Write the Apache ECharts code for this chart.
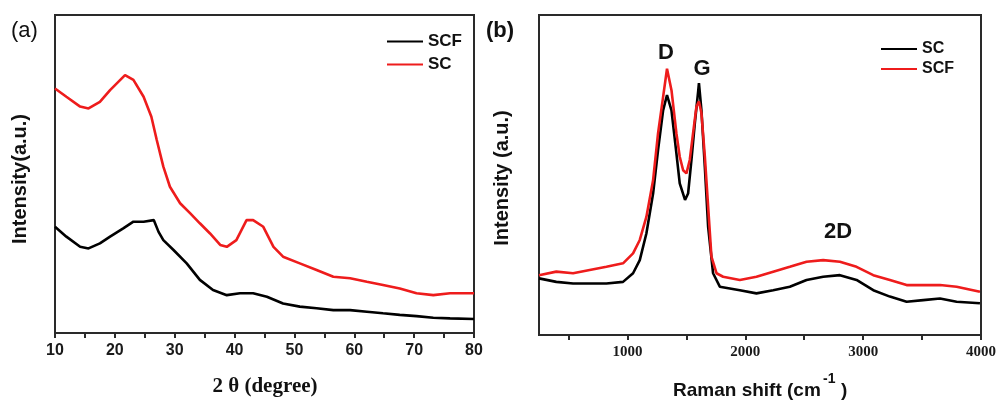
<!DOCTYPE html>
<html><head><meta charset="utf-8">
<script src="https://cdn.jsdelivr.net/npm/echarts@6/dist/echarts.min.js"></script>
<style>html,body{margin:0;padding:0;background:#fff}#c{width:999px;height:401px}</style>
</head><body><div id="c"></div>
<script>
// ---- (a) XRD data ----
const xrdThetaSC = [10, 11.9, 14.2, 15.6, 17.5, 19.2, 21.7, 23.1, 24.8, 26.1, 27.0, 28.1, 29.2, 30.9, 32.6, 34.2, 35.9, 37.6, 38.7, 40.3, 42.0, 43.1, 44.8, 46.5, 48.1, 50.9, 53.7, 56.5, 59.3, 62.1, 64.8, 67.6, 70.4, 73.2, 76.0, 80.0];
const xrdSC = [76.9, 74.3, 71.2, 70.6, 72.7, 76.4, 81.1, 79.6, 74.3, 68.0, 60.7, 52.3, 46.0, 40.8, 37.6, 34.5, 31.3, 27.7, 27.1, 29.2, 35.5, 35.5, 33.4, 27.1, 24.0, 21.9, 19.8, 17.7, 17.2, 16.1, 15.1, 14.0, 12.5, 11.9, 12.5, 12.5];
const xrdThetaSCF = [10, 11.9, 14.2, 15.6, 17.5, 19.2, 21.4, 23.1, 24.8, 26.5, 27.3, 28.1, 29.8, 32.0, 34.2, 36.4, 38.7, 40.9, 43.1, 45.4, 48.1, 50.9, 53.7, 56.5, 59.3, 62.1, 64.8, 67.6, 70.4, 73.2, 76.0, 80.0];
const xrdSCF = [33.4, 30.3, 27.1, 26.6, 28.2, 30.3, 32.9, 35.0, 35.0, 35.5, 31.8, 29.2, 26.1, 21.9, 16.7, 13.5, 11.9, 12.5, 12.5, 11.4, 9.3, 8.3, 7.8, 7.2, 7.2, 6.7, 6.2, 5.7, 5.3, 4.8, 4.6, 4.4];
const xrdTicks = [10, 20, 30, 40, 50, 60, 70, 80];

// ---- (b) Raman data ----
const ramanShiftSC = [250, 397, 539, 680, 822, 963, 1048, 1105, 1161, 1218, 1260, 1303, 1336, 1374, 1416, 1444, 1489, 1515, 1543, 1572, 1600, 1607, 1628, 1657, 1685, 1727, 1784, 1954, 2095, 2237, 2378, 2520, 2661, 2803, 2944, 3086, 3227, 3369, 3510, 3652, 3793, 3991];
const ramanSC = [17.7, 16.6, 16.1, 16.1, 16.1, 16.6, 19.3, 23.4, 31.7, 44.2, 57.8, 70.2, 75.0, 70.2, 56.7, 47.4, 42.2, 44.2, 54.6, 66.1, 76.0, 78.7, 70.3, 52.5, 33.8, 19.3, 15.1, 14.0, 13.0, 14.0, 15.1, 17.2, 18.2, 18.7, 17.2, 14.0, 12.0, 10.4, 10.9, 11.4, 10.4, 9.9];
const ramanShiftSCF = [250, 397, 539, 680, 822, 963, 1048, 1105, 1161, 1218, 1260, 1303, 1336, 1374, 1416, 1444, 1473, 1501, 1529, 1557, 1586, 1607, 1628, 1657, 1685, 1713, 1756, 1812, 1954, 2095, 2237, 2378, 2520, 2661, 2803, 2944, 3086, 3227, 3369, 3510, 3652, 3793, 3991];
const ramanSCF = [18.7, 19.8, 19.3, 20.3, 21.3, 22.4, 25.5, 29.7, 36.9, 48.4, 63.0, 74.4, 83.2, 76.5, 63.0, 55.7, 51.5, 50.5, 54.7, 63.0, 71.4, 73.0, 69.4, 55.8, 40.1, 24.5, 19.3, 18.2, 17.2, 18.2, 19.8, 21.3, 22.9, 23.4, 22.9, 21.3, 18.7, 17.2, 15.6, 15.6, 15.6, 15.1, 13.5];
const ramanTicks = [1000, 2000, 3000, 4000];
const ramanMinorTicks = [500, 1000, 1500, 2000, 2500, 3000, 3500, 4000];

const zip = (xs, ys) => xs.map((x, i) => [x, ys[i]]);
const SANS = '"Liberation Sans", Arial, sans-serif';
const SERIF = '"Liberation Serif", "Times New Roman", serif';
const RED = '#ee1c1c';
const BLACK = '#000000';
const AX = '#2a2a2a';

const chart = echarts.init(document.getElementById('c'), null, { renderer: 'canvas' });

const axisCommon = {
  axisLine: { show: true, lineStyle: { color: AX, width: 2 } },
  splitLine: { show: false }
};
const txt = (text, x, y, font, align, rot) => ({
  type: 'text', x: x, y: y, rotation: rot || 0,
  style: { text: text, font: font, fill: '#111', align: align || 'center', verticalAlign: 'middle', textAlign: align || 'center', textVerticalAlign: 'middle' }
});

chart.setOption({
  animation: false,
  backgroundColor: '#fff',
  grid: [
    { left: 55, top: 15, width: 419, height: 318, show: true, borderColor: AX, borderWidth: 2 },
    { left: 539, top: 15, width: 442, height: 320, show: true, borderColor: AX, borderWidth: 2 }
  ],
  xAxis: [
    Object.assign({}, axisCommon, {
      gridIndex: 0, type: 'value', min: 10, max: 80, interval: 10,
      axisTick: { show: true, inside: false, length: 5, lineStyle: { color: AX, width: 2 } },
      minorTick: { show: true, splitNumber: 2, length: 5, lineStyle: { color: AX, width: 2 } },
      axisLabel: { margin: 10, customValues: xrdTicks, formatter: v => String(v), fontFamily: SANS, fontWeight: 'bold', fontSize: 16, color: '#1a1a1a' }
    }),
    Object.assign({}, axisCommon, {
      gridIndex: 1, type: 'value', min: 250, max: 4000,
      axisTick: { show: true, inside: false, length: 5, customValues: ramanMinorTicks, lineStyle: { color: AX, width: 2 } },
      axisLabel: { margin: 10, customValues: ramanTicks, formatter: v => String(v), fontFamily: SERIF, fontWeight: 'bold', fontSize: 15, color: '#1a1a1a' }
    })
  ],
  yAxis: [
    Object.assign({}, axisCommon, { gridIndex: 0, type: 'value', min: 0, max: 100, axisTick: { show: false }, axisLabel: { show: false } }),
    Object.assign({}, axisCommon, { gridIndex: 1, type: 'value', min: 0, max: 100, axisTick: { show: false }, axisLabel: { show: false } })
  ],
  legend: [
    {
      left: 386, top: 33, orient: 'vertical', padding: 0, itemWidth: 36, itemHeight: 14, itemGap: 6,
      data: ['SCF', 'SC'], itemStyle: { opacity: 0 }, lineStyle: { width: 2 },
      textStyle: { fontFamily: SANS, fontWeight: 'bold', fontSize: 17, color: '#111' }
    },
    {
      left: 880, top: 41, orient: 'vertical', padding: 0, itemWidth: 36, itemHeight: 14, itemGap: 4,
      data: ['SC ', 'SCF '], itemStyle: { opacity: 0 }, lineStyle: { width: 2 },
      textStyle: { fontFamily: SANS, fontWeight: 'bold', fontSize: 16, color: '#111' }
    }
  ],
  series: [
    { name: 'SCF', type: 'line', xAxisIndex: 0, yAxisIndex: 0, data: zip(xrdThetaSCF, xrdSCF), symbol: 'none', lineStyle: { color: BLACK, width: 2.6 }, itemStyle: { color: BLACK } },
    { name: 'SC', type: 'line', xAxisIndex: 0, yAxisIndex: 0, data: zip(xrdThetaSC, xrdSC), symbol: 'none', lineStyle: { color: RED, width: 2.6 }, itemStyle: { color: RED } },
    { name: 'SC ', type: 'line', xAxisIndex: 1, yAxisIndex: 1, data: zip(ramanShiftSC, ramanSC), symbol: 'none', lineStyle: { color: BLACK, width: 2.6 }, itemStyle: { color: BLACK } },
    { name: 'SCF ', type: 'line', xAxisIndex: 1, yAxisIndex: 1, data: zip(ramanShiftSCF, ramanSCF), symbol: 'none', lineStyle: { color: RED, width: 2.6 }, itemStyle: { color: RED } }
  ],
  graphic: [
    { type: 'text', left: 11, top: 20, style: { text: '(a)', font: '22px ' + SANS, fill: '#111' } },
    { type: 'text', left: 486, top: 20, style: { text: '(b)', font: 'bold 22px ' + SANS, fill: '#111' } },
    txt('Intensity(a.u.)', 20, 179, 'bold 20px ' + SANS, 'center', Math.PI / 2),
    txt('Intensity (a.u.)', 502, 178, 'bold 20px ' + SANS, 'center', Math.PI / 2),
    txt('2 θ (degree)', 265, 387, 'bold 21px ' + SERIF),
    txt('Raman shift (cm', 673, 391, 'bold 19px ' + SANS, 'left'),
    txt('-1', 823, 379, 'bold 14px ' + SANS, 'left'),
    txt(')', 841, 391, 'bold 19px ' + SANS, 'left'),
    txt('D', 666, 53, 'bold 22px ' + SANS),
    txt('G', 702, 69, 'bold 22px ' + SANS),
    txt('2D', 838, 232, 'bold 22px ' + SANS)
  ]
});
</script>
</body></html>
